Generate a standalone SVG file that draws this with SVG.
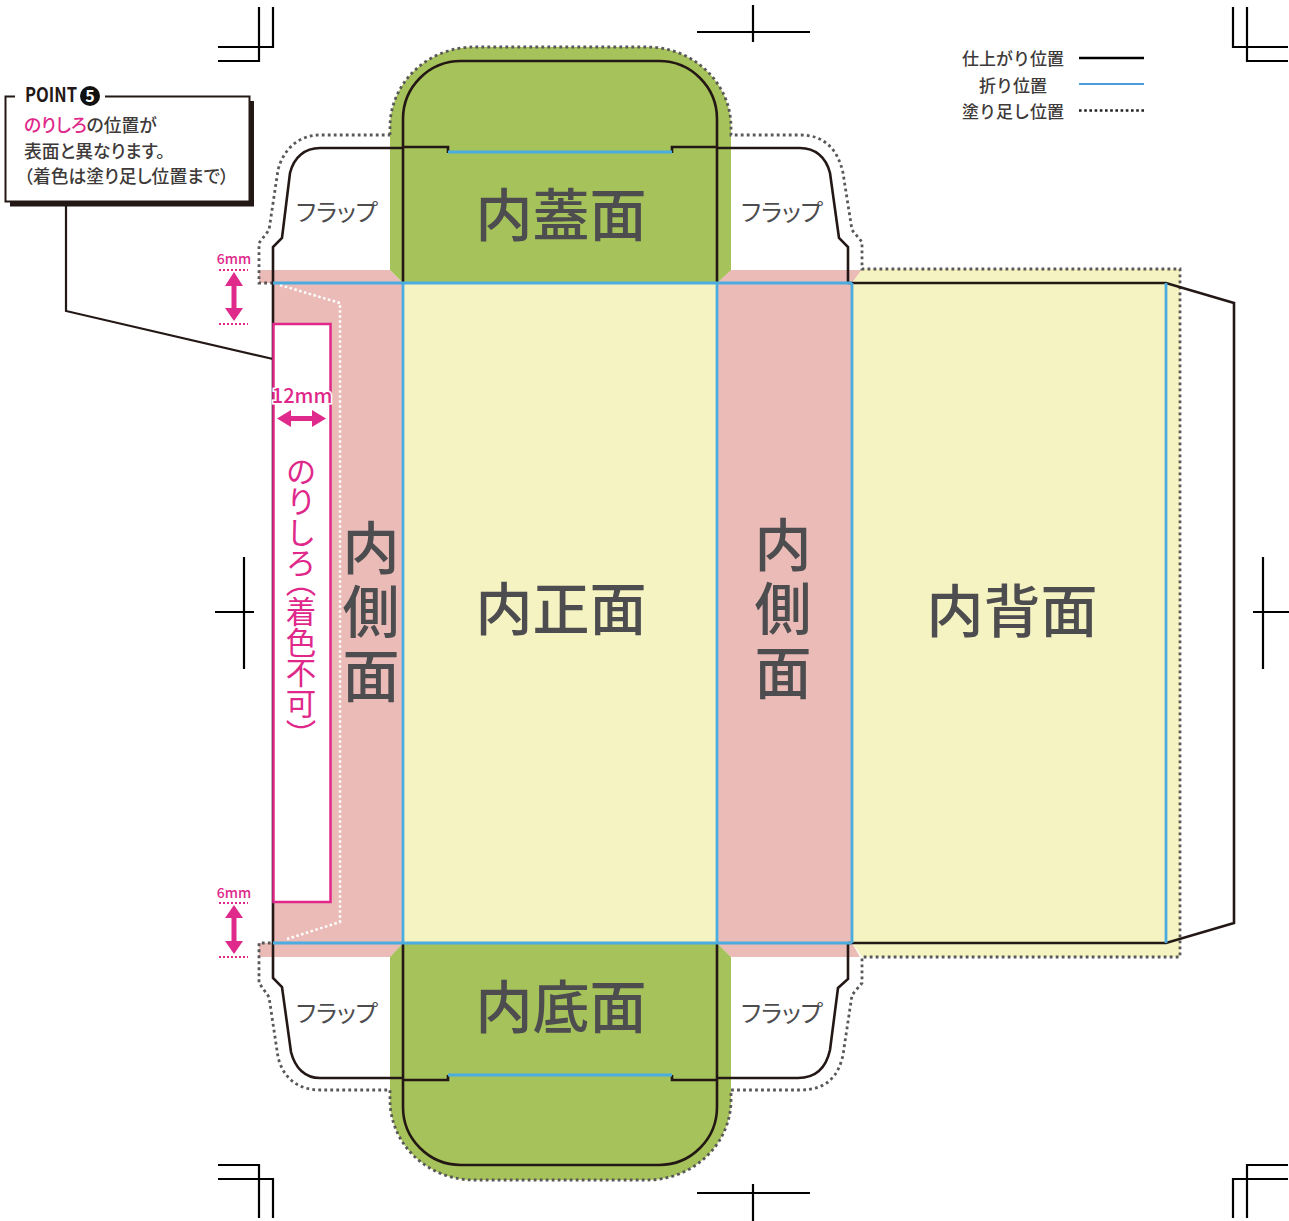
<svg xmlns="http://www.w3.org/2000/svg" width="1289" height="1221" viewBox="0 0 1289 1221">
<style>
text{font-family:"Noto Sans CJK JP","Noto Sans",sans-serif}
.k{fill:none;stroke:#231815;stroke-width:2.6}
.b{fill:none;stroke:#4bace0;stroke-width:2.8}
.d{fill:none;stroke:#595757;stroke-width:2.8;stroke-dasharray:2.8 3.2}
.c{fill:none;stroke:#000;stroke-width:2.2}
.big{font-size:57px;fill:#4d4d4f;text-anchor:middle;font-weight:500}
.vert{font-size:57px;fill:#4d4d4f;font-weight:500;writing-mode:vertical-rl;letter-spacing:7px}
.fl{font-size:24px;fill:#4d4d4f;text-anchor:middle;font-feature-settings:"palt"}
.note{font-size:17.8px;fill:#3e3a39;font-weight:500;font-feature-settings:"palt"}
.leg{font-size:17px;fill:#3e3a39;text-anchor:middle;font-weight:500}
.mm{font-size:14px;fill:#e0288a;text-anchor:middle;font-weight:500}
.p{fill:#df2a8b}
.pd{fill:none;stroke:#e0288a;stroke-width:2;stroke-dasharray:2 2}
</style>
<g id="crop-marks" class="c">
<path d="M218 47H273V7M218 61H259V7"/>
<path d="M1288 47H1233V7M1288 61H1247V7"/>
<path d="M218 1165H259V1218M218 1179H273V1218"/>
<path d="M1288 1165H1247V1218M1288 1179H1233V1218"/>
<path d="M697 32H810M753 5V42M697 1193H810M753 1184V1221"/>
<path d="M215 612H254M244 557V669M1253 612H1289M1263 557V669"/>
</g>
<g id="fills">
<path fill="#ebbbb7" d="M259 270H390L403 283V943L390 957H259V943H273V283H259Z"/>
<path fill="#ebbbb7" d="M730 270H862L852 283V943L860 957H731L717 943V283Z"/>
<path fill="#f6f3c2" d="M403 283H717V943H403Z"/>
<path fill="#f6f3c2" d="M862 269H1180V957H862L852 943V283Z"/>
<path fill="#a6c25a" d="M390 127A84 80 0 0 1 474 47H647A84 80 0 0 1 731 127V270L717 283H403L390 270Z"/>
<path fill="#a6c25a" d="M403 943H717L731 957V1100A84 80 0 0 1 647 1180H474A84 80 0 0 1 390 1100V957Z"/>
</g>
<g id="connectors">
<path class="d" d="M390 135V127A84 80 0 0 1 474 47H647A84 80 0 0 1 731 127V135H800C825 135 838 150 843 173L852 230L862 242V269H1180V957H862V983L852 995L843 1055C838 1078 825 1090 800 1090H731V1100A84 80 0 0 1 647 1180H474A84 80 0 0 1 390 1100V1090H320C298 1090 283 1078 278 1057L269 997L259 983V943H273M273 283H259V243L269 230L278 170C283 150 298 135 320 135H390"/>
<path d="M280 285L340 303V922L287 939" fill="none" stroke="#fff" stroke-width="2.500" stroke-dasharray="2.500 2.500"/>
<path class="k" d="M273 283V247L282 238L290 173C294 157 305 148 320 148H403M403 147H448V153"/>
<path class="k" d="M672 153V147H717M717 148H800C815 148 826 157 830 173L839 238L848 247V283"/>
<path class="k" d="M273 943V978L282 987L291 1052C295 1068 305 1078 320 1078H403M403 1080H448V1075"/>
<path class="k" d="M672 1075V1080H717M717 1078H798C815 1078 826 1068 830 1050L838 988L848 979V943"/>
<path class="k" d="M403 283V119A58 58 0 0 1 461 61H659A58 58 0 0 1 717 119V283"/>
<path class="k" d="M403 943V1107A58 58 0 0 0 461 1165H659A58 58 0 0 0 717 1107V943"/>
<path class="k" d="M273 283V943M848 283H1166L1234 303V923L1166 943H848"/>
<path class="b" d="M273 283H852M273 943H852M403 283V943M717 283V943M852 283V943M1166 283V943M448 152H672M448 1075H672"/>
<path class="k" d="M66 206V311L273 359" style="stroke-width:2.200"/>
</g>
<g id="glue">
<rect x="273.500" y="324" width="57" height="578" fill="#fff" stroke="#e0288a" stroke-width="2.500"/>
<text class="mm" x="302" y="403" style="font-size:20px;stroke:#fff;stroke-width:3px;paint-order:stroke">12mm</text>
<path class="p" d="M277 418.500L291 410V416H312V410L326 418.500L312 427V421H291V427Z"/>
<text x="301" y="456" style="font-size:30.500px;fill:#e0288a;writing-mode:vertical-rl">のりしろ<tspan dy="-12">（</tspan>着色不可<tspan>）</tspan></text>
</g>
<g id="dim-top">
<text class="mm" x="234" y="264">6mm</text>
<path class="pd" d="M219 270H248M219 324H248"/>
<path class="p" d="M234 272L243 286H236.500V308H243L234 321L225 308H231.500V286H225Z"/>
</g>
<g id="dim-bottom">
<text class="mm" x="234" y="898">6mm</text>
<path class="pd" d="M219 903H248M219 957H248"/>
<path class="p" d="M234 905L243 918H236.500V941H243L234 954L225 941H231.500V918H225Z"/>
</g>
<g id="callout">
<rect x="10" y="101" width="244" height="105.500" fill="#231815"/>
<rect x="5.500" y="96.500" width="244" height="105" fill="#fff" stroke="#231815" stroke-width="2"/>
<rect x="15" y="90" width="90" height="12" fill="#fff"/>
<text x="25" y="102" textLength="52" lengthAdjust="spacingAndGlyphs" style="font-size:20px;font-weight:700;fill:#231815">POINT</text>
<circle cx="90" cy="96" r="10" fill="#111"/>
<text x="90" y="102" text-anchor="middle" style="font-size:16px;font-weight:700;fill:#fff">5</text>
<text class="note" x="24" y="132"><tspan fill="#e0288a">のりしろ</tspan>の位置が</text>
<text class="note" x="24" y="158">表面と異なります。</text>
<text class="note" x="24" y="183">（着色は塗り足し位置まで）</text>
</g>
<g id="legend">
<text class="leg" x="1013" y="65">仕上がり位置</text>
<text class="leg" x="1013" y="92">折り位置</text>
<text class="leg" x="1013" y="118">塗り足し位置</text>
<path d="M1079 58H1144" stroke="#000" stroke-width="2.600"/>
<path d="M1079 84H1144" stroke="#4a9fdc" stroke-width="2.200"/>
<path d="M1079 110.500H1144" stroke="#222" stroke-width="2.600" stroke-dasharray="2.600 2.600"/>
</g>
<g id="lid"><text class="big" x="561" y="236">内蓋面</text></g>
<g id="front"><text class="big" x="561" y="630">内正面</text></g>
<g id="bottom"><text class="big" x="561" y="1028">内底面</text></g>
<g id="back"><text class="big" x="1012" y="632">内背面</text></g>
<g id="side-left"><text class="vert" x="371" y="519">内側面</text></g>
<g id="side-right"><text class="vert" x="783" y="516">内側面</text></g>
<g id="flap-tl"><text class="fl" x="337" y="221">フラップ</text></g>
<g id="flap-tr"><text class="fl" x="782" y="221">フラップ</text></g>
<g id="flap-bl"><text class="fl" x="337" y="1022">フラップ</text></g>
<g id="flap-br"><text class="fl" x="782" y="1022">フラップ</text></g>
</svg>
